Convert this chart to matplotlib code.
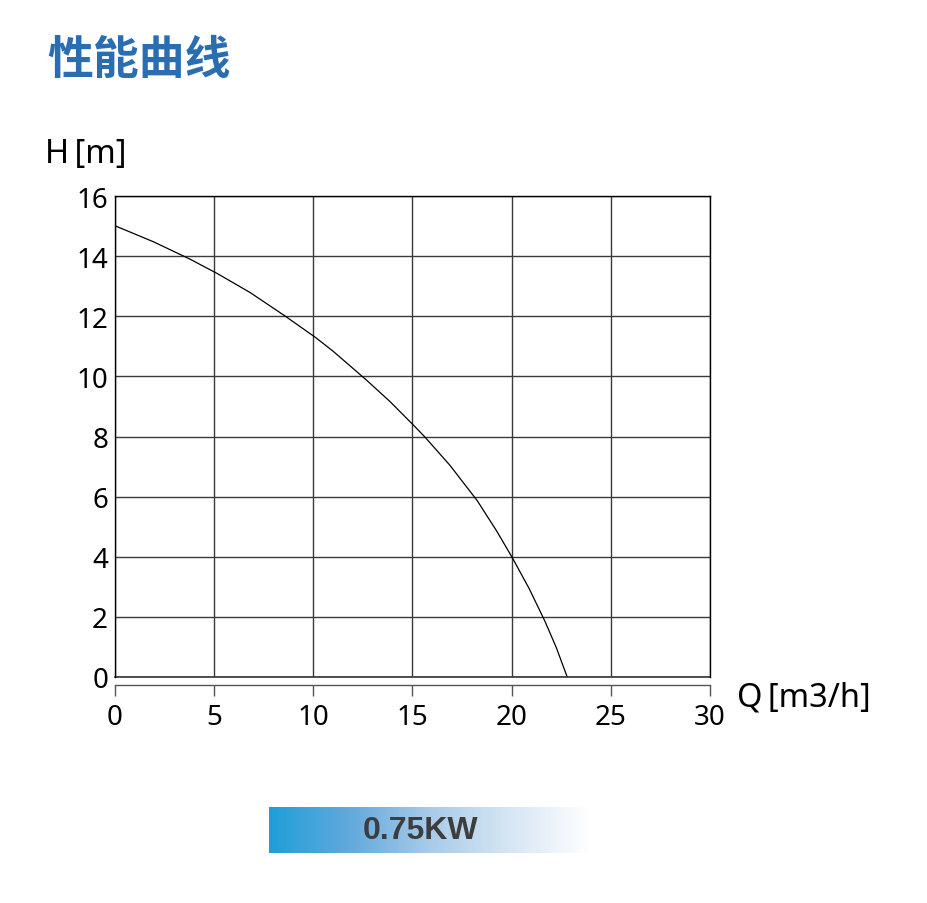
import numpy as np
import matplotlib
matplotlib.use("Agg")
import matplotlib.pyplot as plt
from matplotlib.colors import LinearSegmentedColormap

# Q-H curve
flow_q = [0, 1.93, 3.78, 5.16, 6.81, 8.57, 10.12, 11.01, 12.69, 13.87, 15.09,
          15.63, 16.89, 18.27, 19.25, 20.04, 20.89, 21.68, 22.25, 22.8]
head_h = [15.01, 14.48, 13.90, 13.42, 12.79, 12.01, 11.29, 10.83, 9.87, 9.16, 8.35,
          7.98, 7.04, 5.86, 4.85, 3.96, 2.93, 1.85, 0.98, 0.0]
x_ticks = [0, 5, 10, 15, 20, 25, 30]
y_ticks = [0, 2, 4, 6, 8, 10, 12, 14, 16]
title = "性能曲线"
power_label = "0.75KW"

plt.rcParams["font.family"] = ["Noto Sans", "DejaVu Sans"]

W, H = 928, 904
fig = plt.figure(figsize=(W / 100, H / 100), dpi=100)
fig.patch.set_facecolor("white")

def fx(px):
    return px / W

def fy(py):
    return 1 - py / H

ax = fig.add_axes([fx(115), fy(678), fx(710) - fx(115), fy(197) - fy(678)])
ax.plot(flow_q, head_h, color="black", lw=0.9)
ax.set_xlim(0, 30)
ax.set_ylim(0, 16)

for s in ["top", "left", "right"]:
    ax.spines[s].set_color("black")
    ax.spines[s].set_linewidth(1.0)
ax.spines["bottom"].set_position(("outward", 6))
ax.spines["bottom"].set_color("#555555")
ax.spines["bottom"].set_linewidth(1.0)
ax.axhline(0, color="#333333", lw=1.2, clip_on=False)

ax.set_xticks(x_ticks)
ax.set_yticks(y_ticks)
ax.set_xticklabels([str(v) for v in x_ticks])
ax.set_yticklabels([str(v) for v in y_ticks])
ax.grid(True, color="#3a3a3a", lw=1.0)
ax.set_axisbelow(True)
ax.tick_params(axis="y", length=0, pad=5, colors="black", labelsize=20)
ax.tick_params(axis="x", length=8, width=1.0, pad=5, color="#555555",
               labelcolor="black", labelsize=20)

# axis labels
fig.text(fx(45), fy(163), "H\u2009[m]", fontsize=23.5, ha="left", va="baseline")
fig.text(fx(737), fy(706), "Q\u2009[m3/h]", fontsize=23.5, ha="left", va="baseline")

fig.text(fx(47), fy(61), title, fontsize=33, fontweight="bold", color="#2a6db0",
         family=["Noto Sans CJK SC", "DejaVu Sans"], ha="left", va="center")

# gradient badge
bax = fig.add_axes([fx(269), fy(854), fx(590) - fx(269), fy(808) - fy(854)])
cmap = LinearSegmentedColormap.from_list(
    "badge", ["#1e9fd8", "#62a9dc", "#a8cbe9", "#d6e6f4", "#ffffff"])
bax.imshow(np.linspace(0, 1, 256).reshape(1, -1), aspect="auto", cmap=cmap,
           extent=[0, 1, 0, 1])
bax.axis("off")
fig.text(fx(421), fy(831), power_label, fontsize=23, fontweight="bold",
         color="#3d3d3d", family="Liberation Sans", ha="center", va="center")

fig.savefig("out.png", dpi=100)
